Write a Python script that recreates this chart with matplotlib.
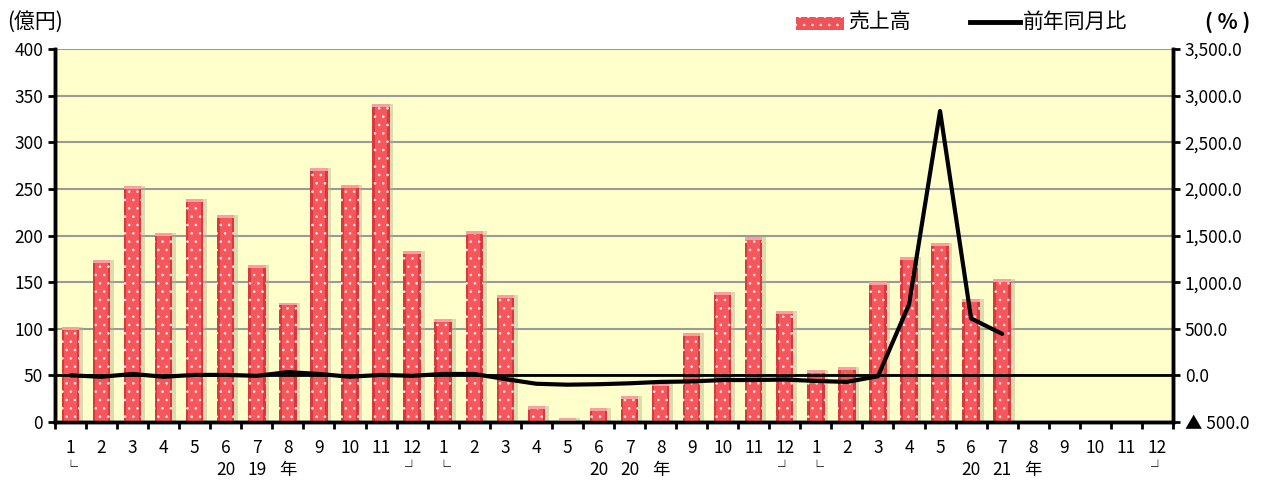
import matplotlib.pyplot as plt
from matplotlib.patches import Rectangle
import numpy as np

plt.rcParams['font.family'] = ['Noto Sans CJK JP', 'DejaVu Sans']
plt.rcParams['hatch.linewidth'] = 0.7

months = [str(m) for m in range(1, 13)] * 3
year_row = ["", "", "", "", "", "20", "19", "年", "", "", "", "",
            "", "", "", "", "", "20", "20", "年", "", "", "", "",
            "", "", "", "", "", "20", "21", "年", "", "", "", ""]

# 売上高 (億円)
sales = [102, 174, 253, 203, 239, 222, 168, 128, 272, 254, 341, 183,
         110, 205, 136, 17, 4, 15, 28, 42, 95, 139, 198, 119,
         56, 59, 150, 177, 192, 132, 153]
# 前年同月比 (%)
yoy = [0, -15, 15, -15, 5, 5, -5, 35, 15, -15, 5, -5,
       15, 15, -40, -90, -100, -95, -85, -70, -65, -50, -50, -45,
       -60, -70, -10, 760, 2835, 610, 445]

left_ticks = list(range(0, 401, 50))
right_ticks = list(range(-500, 3501, 500))


def right_label(v):
    if v < 0:
        return "▲ " + f"{-v:,.1f}"
    return f"{v:,.1f}"


fig = plt.figure(figsize=(12.7, 4.82), dpi=100)
ax = fig.add_axes([0.0433, 0.1245, 0.8803, 0.7738])
ax.set_facecolor("#FFFFCC")
ax.set_xlim(-0.5, 35.5)
ax.set_ylim(0, 400)
ax.set_yticks(left_ticks)
ax.tick_params(axis='y', labelsize=12.5, width=2, length=5, direction='out')
ax.yaxis.grid(True, color="#9a9a9a", lw=1.5)
ax.set_axisbelow(True)

x = np.arange(len(sales))
w = 0.56
# shadow
ax.bar(x + 0.12, sales, width=w, color="#b5b08a", alpha=0.45, lw=0, zorder=2)
# body
ax.bar(x, sales, width=w, color="#D8393F", lw=0, zorder=3)
ax.bar(x, sales, width=w * 0.72, color="#F5575C", lw=0, zorder=3)
ax.bar(x, sales, width=w, color="none", edgecolor="#FFE0E0", hatch="..",
       lw=0, zorder=4)
for xi, v in zip(x, sales):
    ax.add_patch(Rectangle((xi - w / 2, v - 3), w, 3, color="#F7A0A0",
                           lw=0, zorder=4))

ax.set_xticks(np.arange(-0.5, 36, 1))
ax.set_xticklabels([])
ax.tick_params(axis='x', width=2, length=5, direction='out')
for i, m in enumerate(months):
    ax.text(i, -18, m, ha='center', va='top', fontsize=12.5,
            clip_on=False)
    if year_row[i]:
        ax.text(i, -42, year_row[i], ha='center', va='top', fontsize=12.5,
                clip_on=False)
for i in (0, 12, 24):
    ax.text(i, -42, "└", ha='center', va='top', fontsize=10, clip_on=False)
for i in (11, 23, 35):
    ax.text(i, -42, "┘", ha='center', va='top', fontsize=10, clip_on=False)

for side in ('left', 'right', 'bottom'):
    ax.spines[side].set_linewidth(2.5)
    ax.spines[side].set_color('black')
ax.spines['top'].set_visible(False)

ax2 = ax.twinx()
ax2.set_ylim(-500, 3500)
ax2.set_yticks(right_ticks)
ax2.set_yticklabels([right_label(v) for v in right_ticks])
ax2.tick_params(axis='y', labelsize=12.5, width=2, length=5, direction='out')
ax2.axhline(0, color='black', lw=2)
ax2.plot(x[:len(yoy)], yoy, color='black', lw=3, solid_capstyle='round',
         solid_joinstyle='round', zorder=5)
for side in ('left', 'right', 'bottom'):
    ax2.spines[side].set_linewidth(2.5)
ax2.spines['top'].set_visible(False)

fig.text(0.006, 0.955, "(億円)", fontsize=15, va='center', ha='left')
fig.text(0.967, 0.955, "( % )", fontsize=15, fontweight='bold',
         va='center', ha='center')

# legend
fig.patches.append(Rectangle((796 / 1270, 1 - 30 / 482), 48 / 1270, 13 / 482,
                             transform=fig.transFigure, facecolor="#F05258",
                             edgecolor="#FFE0E0", hatch="..", lw=0))
fig.text(848 / 1270, 0.955, "売上高", fontsize=15, va='center', ha='left')
fig.lines.append(plt.Line2D([970 / 1270, 1020 / 1270], [0.955, 0.955],
                            transform=fig.transFigure, color='black', lw=3.5))
fig.text(1023 / 1270, 0.955, "前年同月比", fontsize=15, va='center',
         ha='left')

fig.savefig("out.png", dpi=100)
